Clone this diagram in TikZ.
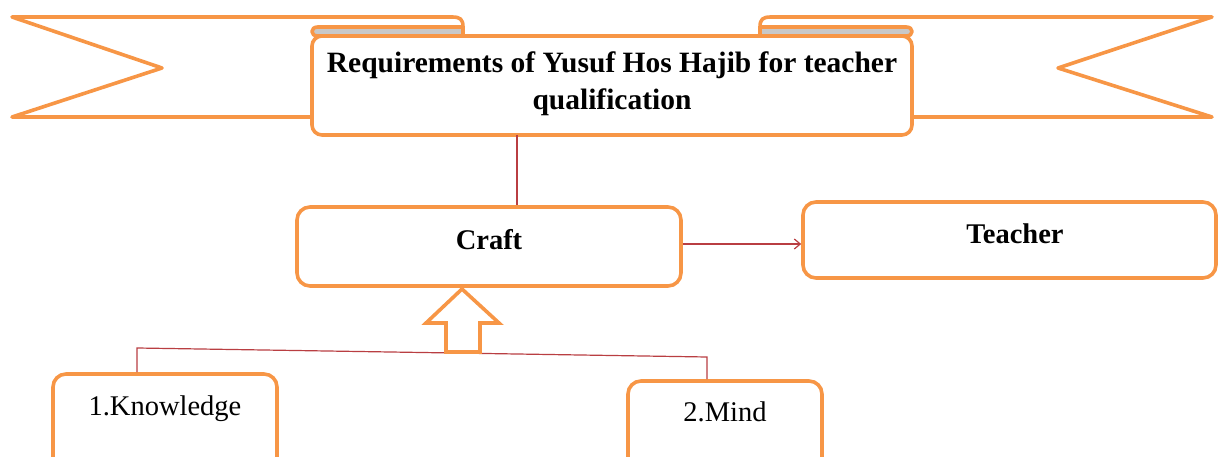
\documentclass[tikz,border=0pt]{standalone}
\usepackage{fontspec}
\setmainfont{Liberation Serif}
\usetikzlibrary{arrows.meta,calc}
\definecolor{ribbon}{RGB}{247,150,70}
\definecolor{link}{RGB}{185,62,66}
\definecolor{rollgray}{RGB}{200,200,200}
\tikzset{
  orangeline/.style={draw=ribbon,line width=3.6pt,line join=round,fill=white},
  roundbox/.style={orangeline,rounded corners=13pt,inner sep=0pt},
  boldlabel/.style={font=\fontsize{28.5}{37}\selectfont\bfseries},
  titlelabel/.style={font=\fontsize{29.5}{37}\selectfont\bfseries},
  plainlabel/.style={font=\fontsize{28.5}{34}\selectfont},
  linkline/.style={draw=link,line width=1.2pt},
}
\begin{document}
\begin{tikzpicture}[x=1pt,y=-1pt]
\useasboundingbox (0,0) rectangle (1219,457);
\clip (0,0) rectangle (1219,457);

% ribbon tails behind the title scroll
\draw[orangeline] (312,117) -- (12,117) -- (162,68) -- (12,17) -- (452,17)
  .. controls (460,17) and (463,19) .. (463,27) -- (463,36);
\draw[orangeline] (912,117) -- (1212,117) -- (1058,68) -- (1212,17) -- (771,17)
  .. controls (763,17) and (760,19) .. (760,27) -- (760,36);

% title scroll body
\draw[orangeline,rounded corners=10pt] (312,36) -- (312,135) -- (912,135) -- (912,36) -- cycle;
% rolled ends of the scroll
\draw[orangeline,fill=rollgray] (463,36) -- (318,36)
  .. controls (314,36) and (312,34) .. (312,31.5)
  .. controls (312,29) and (314,27) .. (318,27) -- (463,27) -- cycle;
\draw[orangeline,fill=rollgray] (760,36) -- (906,36)
  .. controls (910,36) and (912,34) .. (912,31.5)
  .. controls (912,29) and (910,27) .. (906,27) -- (760,27) -- cycle;

\node[titlelabel,align=center] (title) at (612,84)
  {Requirements of Yusuf Hos Hajib for teacher\\qualification};
\coordinate (titlebottom) at (517,135);

% boxes
\node[roundbox,minimum width=384pt,minimum height=79pt] (craft) at (489,246.5) {};
\node[boldlabel] at (489,240) {Craft};
\node[roundbox,minimum width=413pt,minimum height=76pt] (teacher) at (1009.5,240) {};
\node[boldlabel] at (1015,234) {Teacher};
\node[roundbox,minimum width=224pt,minimum height=120pt] (knowledge) at (165,434) {};
\node[plainlabel] at (165,409) {1.Knowledge};
\node[roundbox,minimum width=194pt,minimum height=110pt] (mind) at (725,436) {};
\node[plainlabel] at (725,412) {2.Mind};

% connectors
\draw[linkline] (titlebottom) -- (titlebottom |- craft.north);
\draw[linkline,-{Straight Barb[length=6pt,width=10pt,line width=1.2pt]}]
  (craft.east |- 0,244) -- (teacher.west |- 0,244);

\coordinate (jl) at (137,348);
\coordinate (jr) at (707,357);
\draw[linkline] (jl |- knowledge.north) -- (jl) -- (jr) -- (jr |- mind.north);

% hollow up arrow from the two qualities to Craft
\draw[orangeline,line join=miter] (462,289) -- (499,323) -- (480,323) -- (480,352)
  -- (446,352) -- (446,323) -- (426,323) -- cycle;
\end{tikzpicture}
\end{document}
